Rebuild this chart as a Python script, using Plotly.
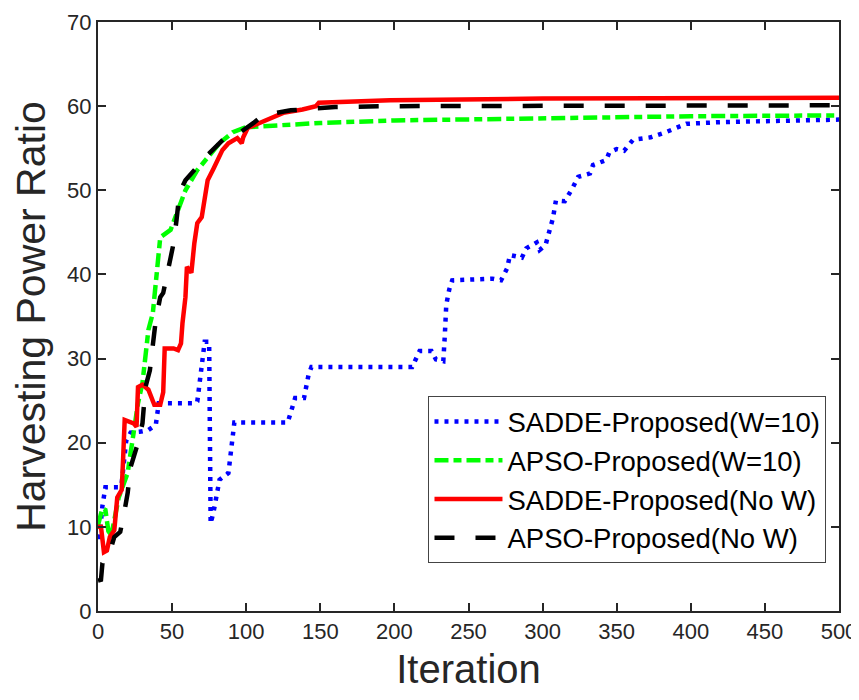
import plotly.graph_objects as go

# SADDE-Proposed (W=10)  -- blue dotted
sadde_w_x = [0, 1, 3, 5, 14, 16, 19, 22, 28, 34, 39, 40, 41, 66, 67, 68, 69, 70, 71, 72, 75, 76, 78, 82, 88, 91, 92,
             128, 131, 133, 139, 142, 144, 212, 217, 225, 228, 233, 234, 235, 237, 239, 266, 272, 276, 278, 286, 289,
             296, 298, 302, 305, 307, 309, 315, 320, 324, 332, 334, 343, 345, 350, 355, 361, 373, 383, 397, 420, 460, 500]
sadde_w_y = [8.8, 8.8, 12.5, 14.7, 14.7, 15.2, 20.2, 21.2, 21.3, 21.5, 22.1, 23.3, 24.7, 24.7, 24.9, 26.3, 27.5, 29.2,
             30.8, 32.0, 32.0, 10.4, 11.8, 15.6, 16.4, 21.9, 22.4,
             22.4, 24.1, 25.3, 25.3, 28.0, 29.0, 29.0, 30.9, 30.9, 29.9, 29.7, 32.7, 36.4, 38.2, 39.3, 39.5, 39.3, 40.7,
             42.3, 42.0, 43.1, 43.8, 42.9, 43.5, 45.2, 46.7, 48.8, 48.7, 50.2, 51.6, 52.0, 53.0, 53.6, 54.5, 54.9, 54.7,
             56.0, 56.3, 56.9, 57.9, 58.1, 58.3, 58.4]

# APSO-Proposed (W=10)  -- green dash-dot
apso_w_x = [0, 3, 5, 7, 9, 14, 20, 23, 25, 27, 30, 32, 34, 37, 39, 40, 42, 49, 54, 59, 67, 76, 82, 91, 100, 110,
            150, 200, 300, 400, 500]
apso_w_y = [10.2, 12.2, 12.0, 9.5, 9.0, 13.5, 16.4, 20.3, 22.7, 24.7, 27.1, 30.2, 33.4, 35.4, 39.3, 41.7, 44.4,
            45.3, 47.6, 50.0, 52.4, 54.4, 55.6, 56.9, 57.5, 57.6, 58.0, 58.3, 58.6, 58.8, 58.9]

# SADDE-Proposed (No W)  -- red solid
sadde_nw_x = [0, 2, 4, 6, 8, 11, 13, 16, 17, 18, 24, 26, 27, 30, 34, 38, 42, 44, 45, 51, 54, 56, 57, 59, 60, 63, 65,
              67, 70, 72, 74, 78, 81, 84, 88, 94, 97, 98, 101, 111, 125, 138, 147, 149, 163, 197, 300, 500]
sadde_nw_y = [10.0, 10.0, 7.0, 7.2, 8.8, 9.6, 13.5, 14.4, 18.3, 22.7, 22.3, 21.9, 26.6, 26.9, 26.3, 24.5, 24.5, 26.0,
              31.2, 31.2, 31.0, 31.8, 34.2, 37.3, 40.9, 40.2, 43.7, 46.1, 46.8, 49.2, 51.2, 52.6, 53.8, 54.8, 55.6,
              56.2, 55.6, 56.3, 57.4, 58.1, 59.2, 59.6, 60.0, 60.4, 60.5, 60.7, 60.9, 61.0]

# APSO-Proposed (No W)  -- black dashed
apso_nw_x = [0, 2, 3, 9, 11, 15, 18, 20, 22, 27, 30, 31, 32, 35, 38, 39, 42, 44, 49, 51, 53, 55, 59, 69, 74, 86, 96,
             105, 111, 130, 160, 200, 500]
apso_nw_y = [3.6, 3.7, 5.7, 7.6, 8.8, 9.4, 12.0, 14.0, 17.1, 20.0, 22.3, 25.4, 26.6, 28.6, 33.4, 34.6, 37.3, 37.8,
             42.0, 43.7, 46.5, 49.7, 51.2, 53.3, 54.2, 56.3, 56.9, 58.0, 58.9, 59.5, 59.9, 60.0, 60.1]

names = ["SADDE-Proposed(W=10)", "APSO-Proposed(W=10)", "SADDE-Proposed(No W)", "APSO-Proposed(No W)"]
x_ticks = [0, 50, 100, 150, 200, 250, 300, 350, 400, 450, 500]
y_ticks = [0, 10, 20, 30, 40, 50, 60, 70]

FONT = "Liberation Sans, Arial, Helvetica, sans-serif"
INK = "#262626"

fig = go.Figure()
fig.add_trace(go.Scatter(x=sadde_w_x, y=sadde_w_y, mode="lines", name=names[0],
                         line=dict(color="#0000FF", width=4.5, dash="4px,6px")))
fig.add_trace(go.Scatter(x=apso_w_x, y=apso_w_y, mode="lines", name=names[1],
                         line=dict(color="#00FF00", width=4.5, dash="14px,5px,8px,5px")))
fig.add_trace(go.Scatter(x=sadde_nw_x, y=sadde_nw_y, mode="lines", name=names[2],
                         line=dict(color="#FF0000", width=4.5)))
fig.add_trace(go.Scatter(x=apso_nw_x, y=apso_nw_y, mode="lines", name=names[3],
                         line=dict(color="#000000", width=4.5, dash="20px,21px")))

axis_common = dict(showgrid=False, zeroline=False, showline=True, mirror="ticks", linecolor=INK, linewidth=2,
                   ticks="inside", ticklen=8, tickwidth=1.5, tickcolor=INK, automargin=False,
                   tickfont=dict(family=FONT, size=22, color=INK))

fig.update_layout(
    width=859, height=700,
    margin=dict(l=90, r=28, t=14, b=97),
    paper_bgcolor="white", plot_bgcolor="white",
    font=dict(family=FONT, color=INK),
    xaxis=dict(range=[0, 500], tickvals=x_ticks, **axis_common,
               title=dict(text="Iteration", font=dict(family=FONT, size=40, color=INK), standoff=12)),
    yaxis=dict(range=[0, 70], tickvals=y_ticks, **axis_common,
               title=dict(text="Harvesting Power Ratio", font=dict(family=FONT, size=41, color=INK), standoff=12)),
    legend=dict(x=0.446, y=0.365, xanchor="left", yanchor="top", bgcolor="white",
                bordercolor="#444444", borderwidth=1, font=dict(family=FONT, size=27.5, color="#000000"),
                itemwidth=68, tracegroupgap=0),
    showlegend=True,
)

fig.write_html("out.html")
